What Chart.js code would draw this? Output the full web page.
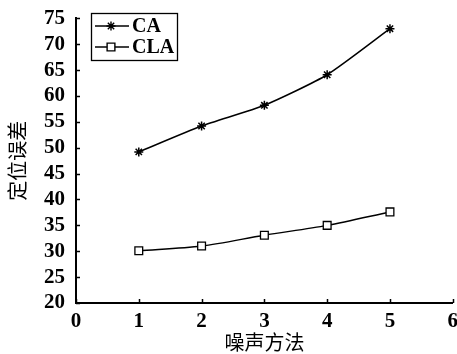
<!DOCTYPE html>
<html>
<head>
<meta charset="utf-8">
<script src="https://cdn.jsdelivr.net/npm/chart.js@4.4.1/dist/chart.umd.min.js"></script>
<style>
  html, body { margin: 0; padding: 0; background: #fff; overflow: hidden; }
  #wrap { width: 457px; height: 354px; overflow: hidden; }
  canvas { display: block; }
</style>
</head>
<body>
<div id="wrap"><canvas id="c" width="466" height="354"></canvas></div>
<script>
// Noise methods on the x axis, localisation error on the y axis
const methods = [1, 2, 3, 4, 5];
const caError = [49.2, 54.2, 58.2, 64.1, 73.0];
const claError = [30.1, 31.0, 33.1, 35.0, 37.6];
const xTicks = [0, 1, 2, 3, 4, 5, 6];
const yTicks = [20, 25, 30, 35, 40, 45, 50, 55, 60, 65, 70, 75];

const seriesNames = ['CA', 'CLA'];
const tickFont = { family: 'Liberation Serif', size: 21, weight: 'bold', lineHeight: 1.0 };
const yTickFont = { family: 'Liberation Serif', size: 21, weight: 'bold', lineHeight: 0.7 };
const cjkFont = { family: 'Noto Sans CJK SC', size: 20, weight: 'normal', lineHeight: 1.0 };

function points(ys) { return methods.map((x, i) => ({ x: x, y: ys[i] })); }

// Short tick marks drawn inside the plot area, plus a boxed legend
const innerTicks = {
  id: 'innerTicks',
  afterDraw(chart) {
    const ctx = chart.ctx;
    const xs = chart.scales.x, ys = chart.scales.y;
    const a = chart.chartArea;
    ctx.save();
    ctx.strokeStyle = '#000';
    ctx.lineWidth = 1.5;
    ctx.beginPath();
    yTicks.forEach(v => {
      const py = Math.round(ys.getPixelForValue(v)) + 0.5;
      ctx.moveTo(a.left, py); ctx.lineTo(a.left + 4, py);
    });
    xTicks.forEach(v => {
      const px = Math.round(xs.getPixelForValue(v)) + 0.5;
      ctx.moveTo(px, a.bottom); ctx.lineTo(px, a.bottom - 4);
    });
    ctx.stroke();

    // legend box
    const bx = 91, by = 13, bw = 86, bh = 47;
    ctx.lineWidth = 1.3;
    ctx.strokeRect(bx + 0.5, by + 0.5, bw, bh);
    ctx.font = 'bold 20px "Liberation Serif"';
    ctx.textBaseline = 'middle';
    chart.data.datasets.forEach((ds, i) => {
      const ly = by + 13 + i * 21;
      ctx.beginPath();
      ctx.lineWidth = 1.4;
      ctx.moveTo(bx + 4, ly); ctx.lineTo(bx + 38, ly);
      ctx.stroke();
      ctx.fillStyle = ds.backgroundColor;
      Chart.helpers.drawPoint(ctx, {
        pointStyle: ds.pointStyle, radius: ds.pointRadius, borderWidth: 1.3
      }, bx + 20, ly);
      ctx.fillStyle = '#000';
      ctx.fillText(ds.label, bx + 41, ly + 1);
    });
    ctx.restore();
  }
};

new Chart(document.getElementById('c'), {
  type: 'line',
  data: {
    datasets: [
      {
        label: seriesNames[0], data: points(caError),
        borderColor: '#000', backgroundColor: '#000', borderWidth: 1.5,
        pointStyle: 'star', pointRadius: 4.5, pointBorderWidth: 1.5,
        tension: 0.2
      },
      {
        label: seriesNames[1], data: points(claError),
        borderColor: '#000', backgroundColor: '#fff', borderWidth: 1.5,
        pointStyle: 'rect', pointRadius: 5.5, pointBorderWidth: 1.3,
        tension: 0.3
      }
    ]
  },
  options: {
    responsive: false,
    animation: false,
    devicePixelRatio: 1,
    layout: { padding: { left: 7, top: 5, right: 0, bottom: 2 } },
    plugins: { legend: { display: false }, tooltip: { enabled: false } },
    scales: {
      x: {
        type: 'linear', min: 0, max: 6,
        afterBuildTicks(s) { s.ticks = xTicks.map(v => ({ value: v })); },
        grid: { display: false, drawTicks: false },
        border: { display: true, color: '#000', width: 2 },
        ticks: { color: '#000', font: tickFont, padding: 8, maxRotation: 0, autoSkip: false },
        title: { display: true, text: '噪声方法', color: '#000', font: cjkFont, padding: { top: -8, bottom: 0 } }
      },
      y: {
        type: 'linear', min: 20, max: 75,
        afterBuildTicks(s) { s.ticks = yTicks.map(v => ({ value: v })); },
        grid: { display: false, drawTicks: false },
        border: { display: true, color: '#000', width: 2 },
        ticks: { color: '#000', font: yTickFont, padding: 11, autoSkip: false },
        title: { display: true, text: '定位误差', color: '#000', font: cjkFont, padding: { top: 0, bottom: 6 } }
      }
    }
  },
  plugins: [innerTicks]
});
</script>
</body>
</html>
